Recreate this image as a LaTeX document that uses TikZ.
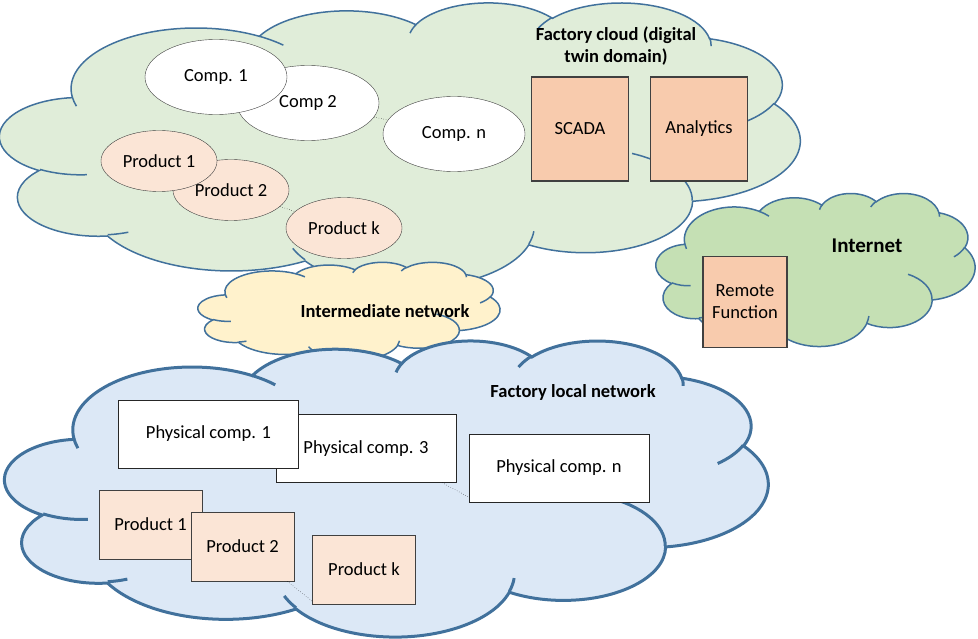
\documentclass[tikz,border=0pt]{standalone}
\usepackage{fontspec}
\setmainfont{Carlito}
\usetikzlibrary{shapes.geometric}

\definecolor{cloudline}{HTML}{41719C}
\definecolor{cloudgreen}{HTML}{E0EDD9}
\definecolor{netgreen}{HTML}{C5E0B4}
\definecolor{netyellow}{HTML}{FFF2CC}
\definecolor{netblue}{HTML}{DCE8F6}
\definecolor{peach}{HTML}{F8CBAD}
\definecolor{lightpeach}{HTML}{FBE5D6}
\definecolor{boxline}{HTML}{404040}

% office cloud outline (grid of 432 x 432)
\newcommand\cloudouter{}
\foreach \rx/\ry/\st/\sw in {67.53/91.90/-190.4875/123.7805, 53.33/72.67/-144.1024/89.9452,
  43.65/59.45/-145.8079/99.7230, 48.57/65.95/-130.9861/117.2417,
  53.33/72.73/-78.7089/109.0269, 67.75/92.20/-46.2673/130.2690,
  57.85/78.67/0.6250/114.0333, 67.52/92.15/22.4516/115.1726,
  77.20/105.43/66.2426/75.7110, 43.60/59.18/-274.9421/146.7356,
  43.45/59.45/-246.8285/152.5189}{
  \pgfmathsetmacro\ta{atan2(\rx*sin(\st),\ry*cos(\st))}
  \pgfmathsetmacro\tb{atan2(\rx*sin(\st+\sw),\ry*cos(\st+\sw))}
  \pgfmathsetmacro\td{mod(\tb-\ta+720,360)}
  \xdef\cloudouter{\cloudouter arc[start angle=\ta, delta angle=\td, x radius=\rx, y radius=\ry]}
}
% the small inner arcs
\newcommand\cloudinner{}
\foreach \px/\py/\rx/\ry/\st/\sw in {46.93/261.77/43.45/59.45/86.7420/26.4295,
  69.28/348.99/43.60/59.18/73.6105/11.4475, 164.78/390.90/67.52/92.15/137.6242/14.0811,
  288.27/347.51/67.52/92.15/6.4533/15.9984, 341.29/229.54/57.85/78.67/-70.2924/70.9174,
  417.98/153.54/53.33/72.73/30.3180/27.7515, 383.24/54.26/48.57/65.95/-13.7443/14.8589,
  290.78/39.52/48.57/65.95/-149.1815/18.1954, 221.41/47.20/43.65/59.45/-163.4943/17.6864,
  140.00/51.92/67.53/91.90/-66.7070/12.3194, 41.27/157.89/67.53/91.90/157.6544/11.8582}{
  \pgfmathsetmacro\ta{atan2(\rx*sin(\st),\ry*cos(\st))}
  \pgfmathsetmacro\tb{atan2(\rx*sin(\st+\sw),\ry*cos(\st+\sw))}
  \pgfmathsetmacro\td{mod(\tb-\ta+720,360)}
  \xdef\cloudinner{\cloudinner (\px,\py) arc[start angle=\ta, delta angle=\td, x radius=\rx, y radius=\ry]}
}

% \netcloud{left}{top}{width}{height}{style}
\newcommand\netcloud[5]{
  \begin{scope}[shift={(#1,#2)}, xscale=#3/432, yscale=#4/432]
    \path[#5] (39,143.7) \cloudouter -- cycle;
    \draw[#5, fill=none] \cloudinner;
  \end{scope}
}

\begin{document}
\begin{tikzpicture}[x=1pt, y=-1pt,
	txt/.style={font=\fontsize{18.5}{22}\selectfont},
	label/.style={font=\fontsize{18.5}{22}\selectfont\bfseries, align=center},
	cloudedge/.style={draw=cloudline, line width=1.5pt},
	comp/.style={ellipse, draw=boxline, fill=white, inner sep=0pt, minimum width=142pt, minimum height=75pt, txt},
	prod/.style={ellipse, draw=boxline, fill=lightpeach, inner sep=0pt, minimum width=116pt, minimum height=61pt, txt},
	func/.style={rectangle, draw=boxline, line width=1.2pt, fill=peach, inner sep=0pt, align=center, txt},
	phys/.style={rectangle, draw=black!85, fill=white, inner sep=0pt, minimum width=180pt, minimum height=68pt, txt},
	part/.style={rectangle, draw=boxline, fill=lightpeach, inner sep=0pt, minimum width=103pt, minimum height=69pt, txt}]
	\useasboundingbox (0,0) rectangle (978,639);

	% digital twin domain
	\netcloud{0}{2}{800}{285}{cloudedge, fill=cloudgreen}
	\node[comp] (comp2) at (308,103) {Comp 2};
	\node[comp] (comp1) at (216,77) {Comp. 1};
	\node[comp] (compn) at (454,134) {Comp. n};
	\node[prod] (prod2) at (231,190) {Product 2};
	\node[prod] (prod1) at (159,161) {Product 1};
	\node[prod] (prodk) at (344,228) {Product k};
	\draw[dotted] (comp2) -- (compn);
	\draw[dotted] (prod2) -- (prodk);
	\node[func, minimum width=97pt, minimum height=104pt] (scada) at (580,129) {SCADA};
	\node[func, minimum width=97pt, minimum height=104pt] (analytics) at (699,129) {Analytics};
	\node[label] (twin) at (616,46) {Factory cloud (digital\\twin domain)};

	% internet
	\netcloud{656}{193}{319}{153}{cloudedge, fill=netgreen}
	\node[label, font=\fontsize{21}{25}\selectfont\bfseries] (inet) at (867,246) {Internet};
	\node[func, minimum width=84pt, minimum height=91pt] (remote) at (745,302) {Remote\\Function};

	% intermediate network
	\netcloud{198}{262}{302}{98}{cloudedge, fill=netyellow}
	\node[label] (inter) at (385,311) {Intermediate network};

	% factory local network
	\netcloud{5}{340}{763}{296}{cloudedge, line width=3pt, fill=netblue}
	\node[label] (local) at (573,392) {Factory local network};
	\node[phys] (phys3) at (366,448.5) {Physical comp. 3};
	\node[phys] (phys1) at (208.5,434) {Physical comp. 1};
	\node[phys] (physn) at (559,468) {Physical comp. n};
	\node[part] (part1) at (150.5,524.5) {Product 1};
	\node[part] (part2) at (242.5,546.5) {Product 2};
	\node[part] (partk) at (364,569.5) {Product k};
	\draw[dotted] ([xshift=-14pt]phys3.south east) -- ([yshift=5pt]physn.south west);
	\draw[dotted] ([xshift=-7pt]part2.south east) -- ([yshift=3pt]partk.south west);
\end{tikzpicture}
\end{document}
